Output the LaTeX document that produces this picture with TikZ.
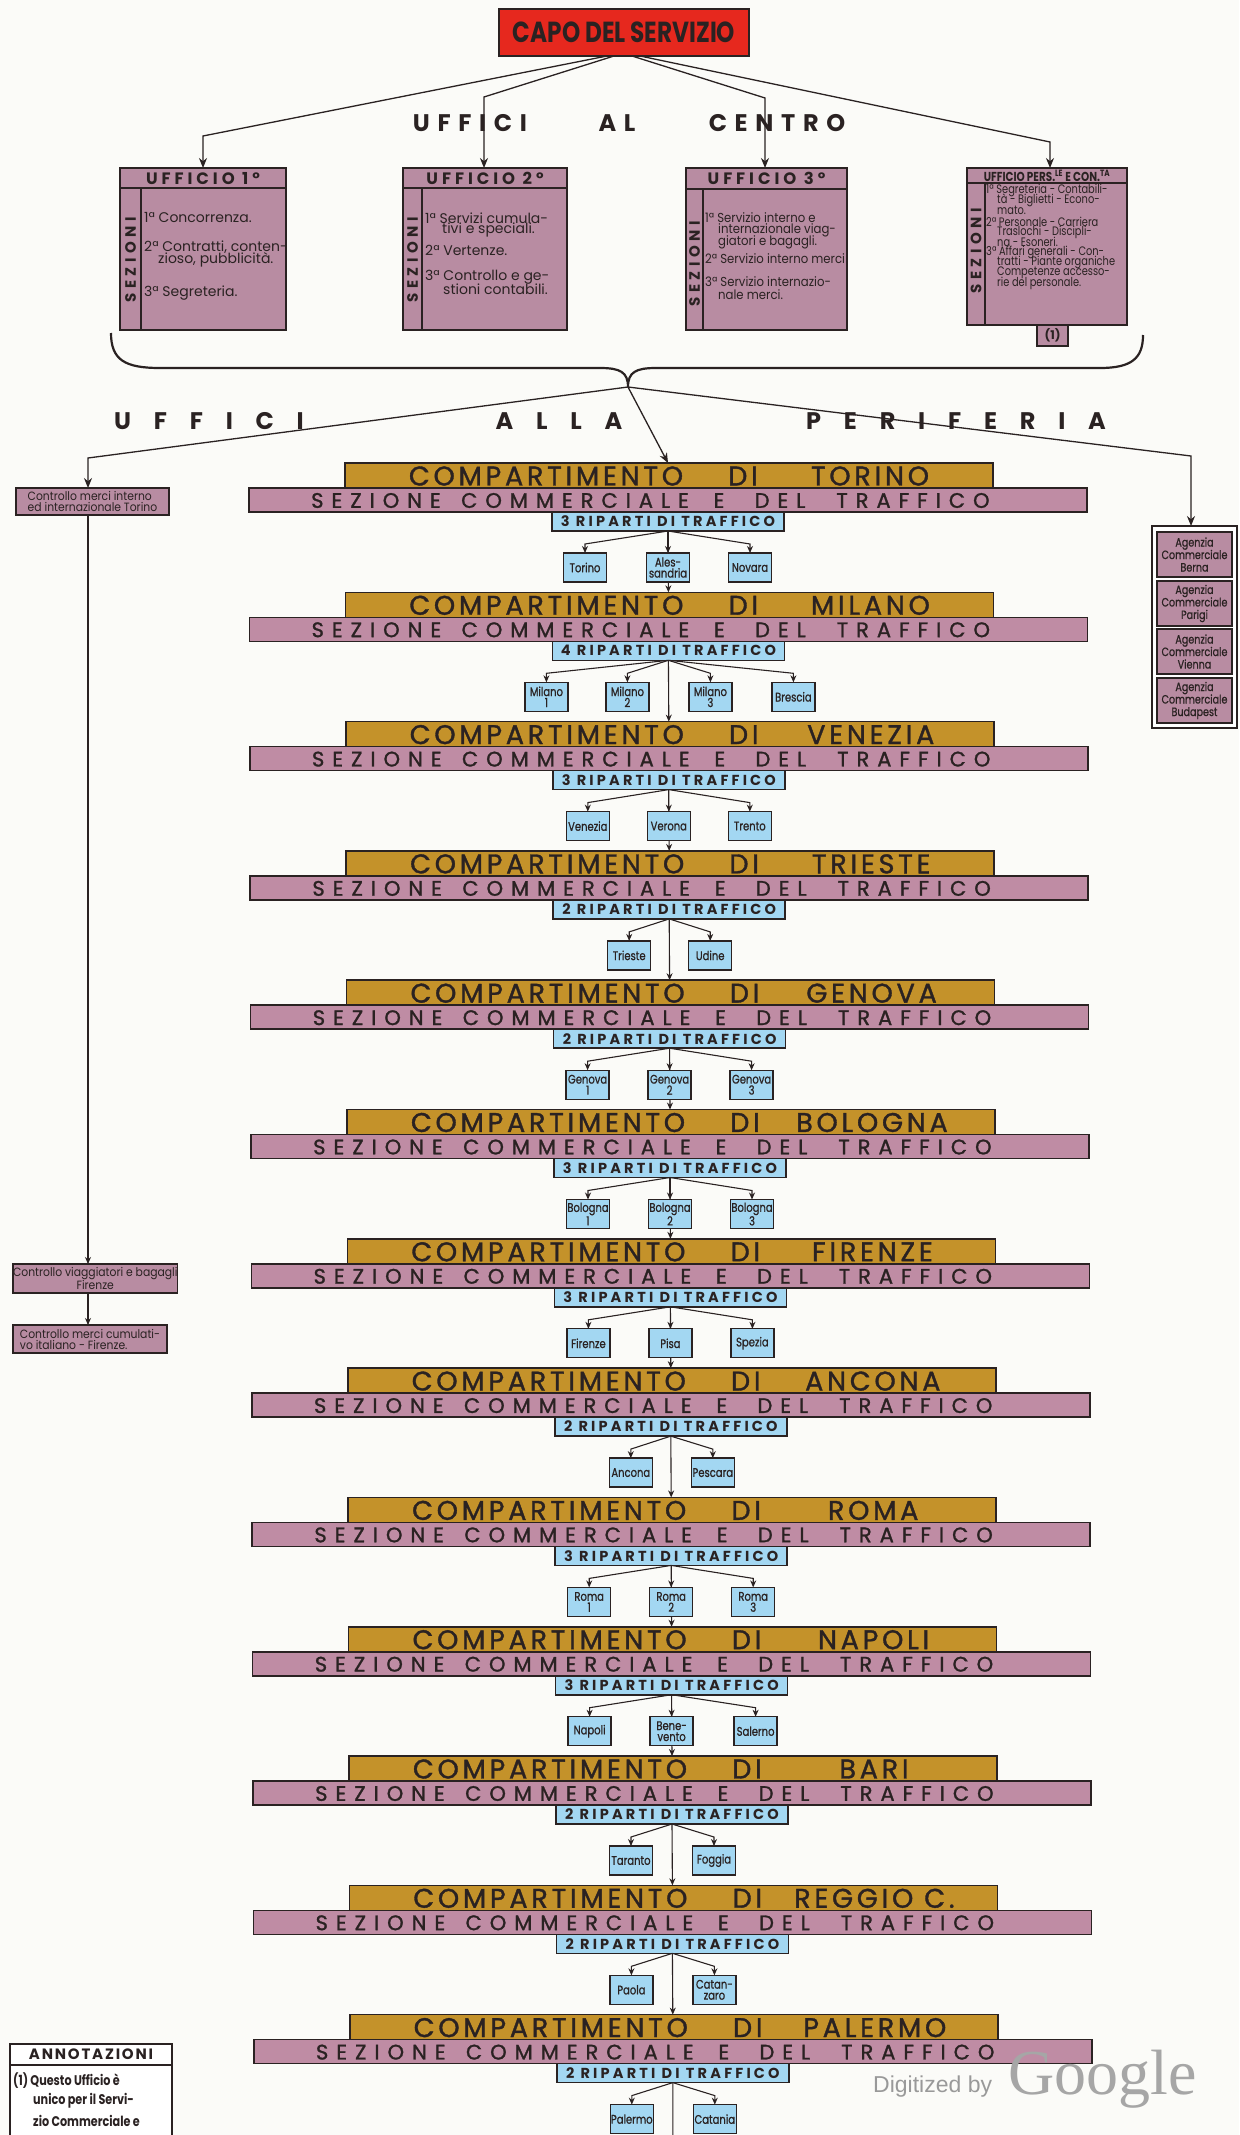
\documentclass[tikz,border=0pt]{standalone}
\usepackage{fontspec}
\setmainfont{Poppins}
\newfontfamily\condf{Poppins}[FakeStretch=0.8]
\newfontfamily\condb{Poppins}[FakeStretch=0.8,FakeBold=0.8]
\newfontfamily\semif{Poppins}[FakeStretch=0.9]
\newfontfamily\medf{Poppins}[FakeBold=1.3]
\newfontfamily\dfont{Liberation Sans}
\newfontfamily\gfont{Liberation Serif}
\usetikzlibrary{arrows.meta,calc}
\definecolor{ink}{HTML}{2A2222}
\definecolor{goldc}{HTML}{C4922A}
\definecolor{pinkc}{HTML}{BF8CA4}
\definecolor{maucol}{HTML}{B88CA2}
\definecolor{bluec}{HTML}{A3D7F2}
\definecolor{redc}{HTML}{E6281E}
\definecolor{bgc}{HTML}{FBFBF8}
\tikzset{
  bx/.style={draw=ink, line width=1.6pt, inner sep=0pt, outer sep=0pt},
  goldbar/.style={bx, fill=goldc, minimum width=648pt, minimum height=25pt, anchor=north west},
  pinkbar/.style={bx, fill=pinkc, minimum width=838pt, minimum height=24pt, anchor=north west},
  ripbox/.style={bx, fill=bluec, minimum width=232pt, minimum height=19pt, anchor=north, text=ink,
     font=\bfseries\fontsize{14.5}{14.5}\selectfont\addfontfeatures{LetterSpace=22}},
  citybox/.style={bx, line width=1.3pt, fill=bluec, minimum width=43pt, minimum height=29pt, anchor=north,
     align=center, text=ink, font=\condb\fontsize{12.5}{11}\selectfont},
  gtxt/.style={inner sep=0pt, text=ink, font=\medf\fontsize{27}{27}\selectfont\addfontfeatures{LetterSpace=14}},
  ptxt/.style={inner sep=0pt, text=ink, font=\medf\fontsize{21}{21}\selectfont\addfontfeatures{LetterSpace=38}},
  arr/.style={draw=ink, line width=1.1pt, -{Stealth[length=7pt,width=6pt]}},
  bigarr/.style={draw=ink, line width=1.3pt, -{Stealth[length=10pt,width=8pt]}},
  ln/.style={draw=ink, line width=1.1pt},
  ln2/.style={draw=ink, line width=1.6pt},
  ubox/.style={bx, fill=maucol, anchor=north west},
  uhead/.style={inner sep=0pt, text=ink, font=\bfseries\fontsize{16.5}{16.5}\selectfont\addfontfeatures{LetterSpace=24}},
  sez/.style={inner sep=0pt, text=ink, rotate=90, font=\bfseries\fontsize{15}{15}\selectfont\addfontfeatures{LetterSpace=30}},
  ut1/.style={anchor=west, inner sep=0pt, text=ink, font=\fontsize{14}{14}\selectfont},
  ut3/.style={anchor=west, inner sep=0pt, text=ink, font=\semif\fontsize{13}{13}\selectfont},
  utp/.style={anchor=west, inner sep=0pt, text=ink, font=\condf\fontsize{12.3}{12}\selectfont},
  lbla/.style={inner sep=0pt, text=ink, font=\bfseries\fontsize{24}{24}\selectfont\addfontfeatures{LetterSpace=32}},
  lblb/.style={inner sep=0pt, text=ink, font=\bfseries\fontsize{24}{24}\selectfont\addfontfeatures{LetterSpace=95}},
  ctrl/.style={bx, fill=maucol, anchor=north west, minimum width=153pt, minimum height=27pt, text=ink, align=left,
     font=\semif\fontsize{12}{11}\selectfont},
  agbox/.style={bx, line width=1.3pt, fill=maucol, anchor=north, minimum width=75pt, minimum height=45pt, text=ink,
     align=center, font=\condb\fontsize{12}{12.5}\selectfont},
}
\newcommand\comp[3]{%
  \pgfmathsetmacro\yy{463+129.3*#1}%
  \pgfmathsetmacro\dd{0.4*#1}%
  \node[goldbar] (g#1) at (345+\dd,\yy) {};
  \node[pinkbar] (p#1) at (249+\dd,\yy+25) {};
  \node[ripbox] (r#1) at (668+\dd,\yy+49) {#3 RIPARTI DI TRAFFICO};
  \coordinate (in#1) at (668+\dd,\yy);
  \node[gtxt] (ga#1) at (546+\dd,\yy+13) {COMPARTIMENTO};
  \node[gtxt] (gb#1) at (743+\dd,\yy+13) {DI};
  \node[gtxt] (gn#1) at (870+\dd,\yy+13) {#2};
  \node[ptxt] (pa#1) at (376+\dd,\yy+37.5) {SEZIONE};
  \node[ptxt] (pb#1) at (575+\dd,\yy+37.5) {COMMERCIALE};
  \node[ptxt] (pc#1) at (719+\dd,\yy+37.5) {E};
  \node[ptxt] (pd#1) at (780+\dd,\yy+37.5) {DEL};
  \node[ptxt] (pe#1) at (913+\dd,\yy+37.5) {TRAFFICO};
}
\newcommand\cities[2]{%
  \pgfmathsetmacro\yy{463+129.3*#1}%
  \pgfmathsetmacro\dd{0.4*#1}%
  \pgfmathtruncatemacro\nx{#1+1}%
  \draw[arr] (r#1.south) -- (in\nx);
  \foreach \off/\lab [count=\k] in {#2}{%
    \node[citybox] (c#1-\k) at (668+\dd+\off,\yy+90) {\lab};
    \ifdim\off pt=0pt
      \draw[arr] (r#1.south) -- (c#1-\k.north);
    \else
      \draw[arr] (r#1.south) -- ($(c#1-\k.north)+(0,-9)$) -- (c#1-\k.north);
    \fi
  }%
}
\begin{document}
\begin{tikzpicture}[x=1pt,y=-1pt]
\useasboundingbox (0,0) rectangle (1239,2135);
\fill[bgc] (0,0) rectangle (1239,2135);

% ---------- top ----------
\node[bx, fill=redc, minimum width=250pt, minimum height=47pt, anchor=north west, text=ink,
      font=\condf\bfseries\fontsize{29}{29}\selectfont] (capo) at (499,9) {CAPO DEL SERVIZIO};

\node[lbla] (lc1) at (470,123) {UFFICI};
\node[lbla] (lc2) at (617,123) {AL};
\node[lbla] (lc3) at (777,123) {CENTRO};

% uffici boxes
\node[ubox, minimum width=166pt, minimum height=162pt] (u1) at (120,168) {};
\draw[ln2] ($(u1.north west)+(0,20)$) -- ($(u1.north east)+(0,20)$);
\draw[ln2] ($(u1.north west)+(21,20)$) -- ($(u1.south west)+(21,0)$);
\node[uhead] (u1h) at ($(u1.north)+(0,10.5)$) {UFFICIO 1º};
\node[sez] (u1s) at (130.5,260) {SEZIONI};
\node[ut1] (u1a) at (144,218) {1ª Concorrenza.};
\node[ut1] (u1b) at (144,247) {2ª Contratti, conten-};
\node[ut1] (u1c) at (158,260) {zioso, pubblicità.};
\node[ut1] (u1d) at (144,293) {3ª Segreteria.};

\node[ubox, minimum width=164pt, minimum height=162pt] (u2) at (403,168) {};
\draw[ln2] ($(u2.north west)+(0,20)$) -- ($(u2.north east)+(0,20)$);
\draw[ln2] ($(u2.north west)+(19,20)$) -- ($(u2.south west)+(19,0)$);
\node[uhead] (u2h) at ($(u2.north)+(0,10.5)$) {UFFICIO 2º};
\node[sez] (u2s) at (412.5,260) {SEZIONI};
\node[ut1] (u2a) at (425,218) {1ª Servizi cumula-};
\node[ut1] (u2b) at (442,230) {tivi e speciali.};
\node[ut1] (u2c) at (425,250) {2ª Vertenze.};
\node[ut1] (u2d) at (425,277) {3ª Controllo e ge-};
\node[ut1] (u2e) at (443,289) {stioni contabili.};

\node[ubox, minimum width=161pt, minimum height=162pt] (u3) at (686,168) {};
\draw[ln2] ($(u3.north west)+(0,21)$) -- ($(u3.north east)+(0,21)$);
\draw[ln2] ($(u3.north west)+(17,21)$) -- ($(u3.south west)+(17,0)$);
\node[uhead] (u3h) at ($(u3.north)+(0,10.5)$) {UFFICIO 3º};
\node[sez] (u3s) at (694.5,264) {SEZIONI};
\node[ut3] (u3a) at (705,218) {1ª Servizio interno e};
\node[ut3] (u3b) at (718,230) {internazionale viag-};
\node[ut3] (u3c) at (718,242) {giatori e bagagli.};
\node[ut3] (u3d) at (705,259) {2ª Servizio interno merci};
\node[ut3] (u3e) at (705,282) {3ª Servizio internazio-};
\node[ut3] (u3f) at (718,295) {nale merci.};

\node[bx, fill=maucol, minimum width=31pt, minimum height=22pt, anchor=north, text=ink,
      font=\bfseries\fontsize{12}{12}\selectfont] (tab) at (1052.5,324) {(1)};
\node[ubox, minimum width=160pt, minimum height=157pt] (u4) at (967,168) {};
\draw[ln2] ($(u4.north west)+(0,15)$) -- ($(u4.north east)+(0,15)$);
\draw[ln2] ($(u4.north west)+(18,15)$) -- ($(u4.south west)+(18,0)$);
\node[inner sep=0pt, text=ink, font=\condf\bfseries\fontsize{13}{13}\selectfont] (u4h) at ($(u4.north)+(0,8)$)
  {UFFICIO PERS.\textsuperscript{LE} E CON.\textsuperscript{TA}};
\node[sez] (u4s) at (976,251) {SEZIONI};
\node[utp] (u4a) at (986,190) {1ª Segreteria - Contabili-};
\node[utp] (u4b) at (997,200) {tà - Biglietti - Econo-};
\node[utp] (u4c) at (997,210) {mato.};
\node[utp] (u4d) at (986,222) {2ª Personale - Carriera};
\node[utp] (u4e) at (997,232) {Traslochi - Discipli-};
\node[utp] (u4f) at (997,242) {na - Esoneri.};
\node[utp] (u4g) at (986,252) {3ª Affari generali - Con-};
\node[utp] (u4h2) at (997,262) {tratti - Piante organiche};
\node[utp] (u4i) at (997,273) {Competenze accesso-};
\node[utp] (u4j) at (997,283) {rie del personale.};

% capo arrows
\coordinate (k1) at (203,136);
\coordinate (k2) at (484,97);
\coordinate (k3) at (765,98);
\coordinate (k4) at (1050,142);
\draw[bigarr] ([xshift=-17pt]capo.south) -- (k1) -- (k1 |- u1.north);
\draw[bigarr] ([xshift=-10pt]capo.south) -- (k2) -- (k2 |- u2.north);
\draw[bigarr] ([xshift=8pt]capo.south) -- (k3) -- (k3 |- u3.north);
\draw[bigarr] ([xshift=16pt]capo.south) -- (k4) -- (k4 |- u4.north);

% brace
\coordinate (cusp) at (628,387);
\draw[draw=ink, line width=2.2pt] (111,333) .. controls (111,360) and (125,368) .. (160,368) -- (600,368)
   .. controls (620,368) and (628,372) .. (cusp) .. controls (628,372) and (636,368) .. (656,368)
   -- (1100,368) .. controls (1132,368) and (1143,358) .. (1143,335);

% periferia label
\node[lblb] (lp1) at (209,421) {UFFICI};
\node[lblb] (lp2) at (559,421) {ALLA};
\node[lblb] (lp3) at (956,421) {PERIFERIA};

% ---------- compartimenti ----------
\comp{0}{TORINO}{3}
\comp{1}{MILANO}{4}
\comp{2}{VENEZIA}{3}
\comp{3}{TRIESTE}{2}
\comp{4}{GENOVA}{2}
\comp{5}{BOLOGNA}{3}
\comp{6}{FIRENZE}{3}
\comp{7}{ANCONA}{2}
\comp{8}{ROMA}{3}
\comp{9}{NAPOLI}{3}
\comp{10}{BARI}{2}
\comp{11}{REGGIO C.}{2}
\comp{12}{PALERMO}{2}
\coordinate (in13) at (673,2170);

\cities{0}{-83/Torino, 0/Ales-\\sandria, 82/Novara}
\cities{1}{-122/Milano\\1, -41/Milano\\2, 42/Milano\\3, 125/Brescia}
\cities{2}{-81/Venezia, 0/Verona, 81/Trento}
\cities{3}{-40/Trieste, 41/Udine}
\cities{4}{-82/Genova\\1, 0/Genova\\2, 82/Genova\\3}
\cities{5}{-82/Bologna\\1, 0/Bologna\\2, 82/Bologna\\3}
\cities{6}{-82/Firenze, 0/Pisa, 82/Spezia}
\cities{7}{-40/Ancona, 42/Pescara}
\cities{8}{-82/Roma\\1, 0/Roma\\2, 82/Roma\\3}
\cities{9}{-82/Napoli, 0/Bene-\\vento, 84/Salerno}
\cities{10}{-41/Taranto, 42/Foggia}
\cities{11}{-41/Paola, 42/Catan-\\zaro}
\cities{12}{-41/Palermo, 42/Catania}

% ---------- left controllo ----------
\node[ctrl] (cl1) at (16,488) {Controllo merci interno\\ed internazionale Torino};
\node[ctrl, align=center, minimum width=154pt, minimum height=29pt] (cl2) at (13,1264) {Controllo viaggiatori e bagagli\\Firenze};
\node[ctrl, minimum width=154pt, minimum height=28pt] (cl3) at (13,1325) {Controllo merci cumulati-\\vo italiano - Firenze.};
\coordinate (k5) at (88,458);
\draw[bigarr] (cusp) -- (k5) -- (k5 |- cl1.north);
\draw[arr] (k5 |- cl1.south) -- (k5 |- cl2.north);
\draw[arr] (k5 |- cl2.south) -- (k5 |- cl3.north);

% ---------- centre arrow ----------
\draw[bigarr] (cusp) -- (in0);

% ---------- agenzie ----------
\node[bx, fill=white, minimum width=85pt, minimum height=202pt, anchor=north west] (ag) at (1152,526) {};
\node[agbox] (ag1) at (1194.5,532) {Agenzia\\Commerciale\\Berna};
\node[agbox] (ag2) at (1194.5,581) {Agenzia\\Commerciale\\Parigi};
\node[agbox] (ag3) at (1194.5,629) {Agenzia\\Commerciale\\Vienna};
\node[agbox] (ag4) at (1194.5,678) {Agenzia\\Commerciale\\Budapest};
\coordinate (k7) at (1191,456);
\draw[bigarr] (cusp) -- (k7) -- (k7 |- ag.north);

% ---------- annotazioni ----------
\node[bx, fill=white, minimum width=162pt, minimum height=120pt, anchor=north west] (ann) at (10,2044) {};
\draw[ln2] ($(ann.north west)+(0,21)$) -- ($(ann.north east)+(0,21)$);
\node[inner sep=0pt, text=ink, font=\bfseries\fontsize{15}{15}\selectfont\addfontfeatures{LetterSpace=12}] (annh) at ($(ann.north)+(0,10.5)$) {ANNOTAZIONI};
\node[anchor=west, inner sep=0pt, text=ink, font=\condf\bfseries\fontsize{14}{14}\selectfont] (an1) at (13,2081) {(1) Questo Ufficio è};
\node[anchor=west, inner sep=0pt, text=ink, font=\condf\bfseries\fontsize{14}{14}\selectfont] (an2) at (33,2101) {unico per il Servi-};
\node[anchor=west, inner sep=0pt, text=ink, font=\condf\bfseries\fontsize{14}{14}\selectfont] (an3) at (33,2121) {zio Commerciale e};

% ---------- watermark ----------
\node[anchor=west, inner sep=0pt, text=gray!80, font=\dfont\fontsize{23}{23}\selectfont] (dig) at (873,2087) {Digitized by};
\node[anchor=west, inner sep=0pt, text=gray!70, font=\gfont\fontsize{64}{64}\selectfont] (goo) at (1008,2079) {Google};
\end{tikzpicture}
\end{document}
